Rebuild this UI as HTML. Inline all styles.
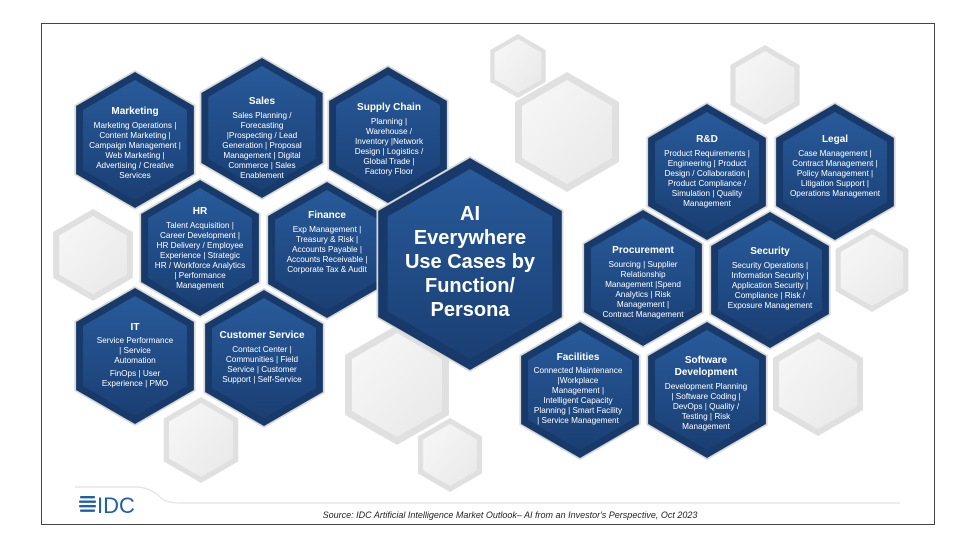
<!DOCTYPE html>
<html><head><meta charset="utf-8"><style>
html,body{margin:0;padding:0;background:#fff;}
svg{display:block;font-family:"Liberation Sans",sans-serif;}
.t{fill:#fff;font-weight:bold;font-size:10px;text-anchor:middle;}
.b{fill:#fff;font-size:8.2px;text-anchor:middle;}
</style></head><body>
<svg width="975" height="548" viewBox="0 0 975 548" xmlns="http://www.w3.org/2000/svg">
<defs>
<polygon id="h" points="0,-1 0.866,-0.5 0.866,0.5 0,1 -0.866,0.5 -0.866,-0.5"/>
<linearGradient id="bg" x1="0" y1="0" x2="0" y2="1"><stop offset="0" stop-color="#285a9a"/><stop offset="1" stop-color="#1a3f74"/></linearGradient>
<linearGradient id="gg" x1="0" y1="0" x2="1" y2="1"><stop offset="0" stop-color="#f8f8f8"/><stop offset="1" stop-color="#e8e8e8"/></linearGradient>
</defs>
<rect x="41.5" y="23.5" width="893" height="501" fill="#fff" stroke="#444" stroke-width="1"/>
<g>
<g transform="translate(518,66)"><use href="#h" transform="scale(32)" fill="#e0e0e0"/><use href="#h" transform="scale(27)" fill="url(#gg)"/></g>
<g transform="translate(567,132)"><use href="#h" transform="scale(60)" fill="#e0e0e0"/><use href="#h" transform="scale(52)" fill="url(#gg)"/></g>
<g transform="translate(765,85)"><use href="#h" transform="scale(40)" fill="#e0e0e0"/><use href="#h" transform="scale(34)" fill="url(#gg)"/></g>
<g transform="translate(872,270)"><use href="#h" transform="scale(42)" fill="#e0e0e0"/><use href="#h" transform="scale(36)" fill="url(#gg)"/></g>
<g transform="translate(818,384)"><use href="#h" transform="scale(52)" fill="#e0e0e0"/><use href="#h" transform="scale(45)" fill="url(#gg)"/></g>
<g transform="translate(93,255)"><use href="#h" transform="scale(46)" fill="#e0e0e0"/><use href="#h" transform="scale(39)" fill="url(#gg)"/></g>
<g transform="translate(201,440)"><use href="#h" transform="scale(43)" fill="#e0e0e0"/><use href="#h" transform="scale(37)" fill="url(#gg)"/></g>
<g transform="translate(397,385)"><use href="#h" transform="scale(60)" fill="#e0e0e0"/><use href="#h" transform="scale(52)" fill="url(#gg)"/></g>
<g transform="translate(450,455)"><use href="#h" transform="scale(37)" fill="#e0e0e0"/><use href="#h" transform="scale(31)" fill="url(#gg)"/></g>
</g>
<g>
<g transform="translate(135,140)"><use href="#h" transform="scale(70)" fill="#d8d8d8"/><use href="#h" transform="scale(68)" fill="#173a6a"/><use href="#h" transform="scale(60)" fill="url(#bg)"/></g>
<g transform="translate(262,128)"><use href="#h" transform="scale(72)" fill="#d8d8d8"/><use href="#h" transform="scale(70)" fill="#173a6a"/><use href="#h" transform="scale(62)" fill="url(#bg)"/></g>
<g transform="translate(388,135)"><use href="#h" transform="scale(70)" fill="#d8d8d8"/><use href="#h" transform="scale(68)" fill="#173a6a"/><use href="#h" transform="scale(60)" fill="url(#bg)"/></g>
<g transform="translate(200,248)"><use href="#h" transform="scale(70)" fill="#d8d8d8"/><use href="#h" transform="scale(68)" fill="#173a6a"/><use href="#h" transform="scale(60)" fill="url(#bg)"/></g>
<g transform="translate(327,250)"><use href="#h" transform="scale(70)" fill="#d8d8d8"/><use href="#h" transform="scale(68)" fill="#173a6a"/><use href="#h" transform="scale(60)" fill="url(#bg)"/></g>
<g transform="translate(135,356)"><use href="#h" transform="scale(70)" fill="#d8d8d8"/><use href="#h" transform="scale(68)" fill="#173a6a"/><use href="#h" transform="scale(60)" fill="url(#bg)"/></g>
<g transform="translate(264,358)"><use href="#h" transform="scale(70)" fill="#d8d8d8"/><use href="#h" transform="scale(68)" fill="#173a6a"/><use href="#h" transform="scale(60)" fill="url(#bg)"/></g>
<g transform="translate(470,264)"><use href="#h" transform="scale(108)" fill="#d8d8d8"/><use href="#h" transform="scale(106)" fill="#173a6a"/><use href="#h" transform="scale(95)" fill="url(#bg)"/></g>
<g transform="translate(707,172)"><use href="#h" transform="scale(70)" fill="#d8d8d8"/><use href="#h" transform="scale(68)" fill="#173a6a"/><use href="#h" transform="scale(60)" fill="url(#bg)"/></g>
<g transform="translate(835,172)"><use href="#h" transform="scale(70)" fill="#d8d8d8"/><use href="#h" transform="scale(68)" fill="#173a6a"/><use href="#h" transform="scale(60)" fill="url(#bg)"/></g>
<g transform="translate(643,278)"><use href="#h" transform="scale(70)" fill="#d8d8d8"/><use href="#h" transform="scale(68)" fill="#173a6a"/><use href="#h" transform="scale(60)" fill="url(#bg)"/></g>
<g transform="translate(770,280)"><use href="#h" transform="scale(70)" fill="#d8d8d8"/><use href="#h" transform="scale(68)" fill="#173a6a"/><use href="#h" transform="scale(60)" fill="url(#bg)"/></g>
<g transform="translate(580,390)"><use href="#h" transform="scale(70)" fill="#d8d8d8"/><use href="#h" transform="scale(68)" fill="#173a6a"/><use href="#h" transform="scale(60)" fill="url(#bg)"/></g>
<g transform="translate(707,390)"><use href="#h" transform="scale(70)" fill="#d8d8d8"/><use href="#h" transform="scale(68)" fill="#173a6a"/><use href="#h" transform="scale(60)" fill="url(#bg)"/></g>
</g>
<text class="t" x="135" y="114">Marketing</text>
<text class="b" x="135" y="128"><tspan x="135">Marketing Operations |</tspan><tspan x="135" dy="10">Content Marketing |</tspan><tspan x="135" dy="10">Campaign Management |</tspan><tspan x="135" dy="10">Web Marketing |</tspan><tspan x="135" dy="10">Advertising / Creative</tspan><tspan x="135" dy="10">Services</tspan></text>

<text class="t" x="262" y="104">Sales</text>
<text class="b" x="262" y="118"><tspan x="262">Sales Planning /</tspan><tspan x="262" dy="10">Forecasting</tspan><tspan x="262" dy="10">|Prospecting / Lead</tspan><tspan x="262" dy="10">Generation | Proposal</tspan><tspan x="262" dy="10">Management | Digital</tspan><tspan x="262" dy="10">Commerce | Sales</tspan><tspan x="262" dy="10">Enablement</tspan></text>

<text class="t" x="389" y="110">Supply Chain</text>
<text class="b" x="389" y="124"><tspan x="389">Planning |</tspan><tspan x="389" dy="10">Warehouse /</tspan><tspan x="389" dy="10">Inventory |Network</tspan><tspan x="389" dy="10">Design | Logistics /</tspan><tspan x="389" dy="10">Global Trade |</tspan><tspan x="389" dy="10">Factory Floor</tspan></text>

<text class="t" x="200" y="214">HR</text>
<text class="b" x="200" y="228"><tspan x="200">Talent Acquisition |</tspan><tspan x="200" dy="10">Career Development |</tspan><tspan x="200" dy="10">HR Delivery / Employee</tspan><tspan x="200" dy="10">Experience | Strategic</tspan><tspan x="200" dy="10">HR / Workforce Analytics</tspan><tspan x="200" dy="10">| Performance</tspan><tspan x="200" dy="10">Management</tspan></text>

<text class="t" x="327" y="218">Finance</text>
<text class="b" x="327" y="232"><tspan x="327">Exp Management |</tspan><tspan x="327" dy="10">Treasury &amp; Risk |</tspan><tspan x="327" dy="10">Accounts Payable |</tspan><tspan x="327" dy="10">Accounts Receivable |</tspan><tspan x="327" dy="10">Corporate Tax &amp; Audit</tspan></text>

<text class="t" x="135" y="330">IT</text>
<text class="b" x="135" y="343"><tspan x="135">Service Performance</tspan><tspan x="135" dy="10">| Service</tspan><tspan x="135" dy="10">Automation</tspan><tspan x="135" dy="13">FinOps | User</tspan><tspan x="135" dy="10">Experience | PMO</tspan></text>

<text class="t" x="262" y="338">Customer Service</text>
<text class="b" x="262" y="352"><tspan x="262">Contact Center |</tspan><tspan x="262" dy="10">Communities | Field</tspan><tspan x="262" dy="10">Service | Customer</tspan><tspan x="262" dy="10">Support | Self-Service</tspan></text>

<g style="fill:#fff;font-weight:bold;font-size:20px;text-anchor:middle;">
<text x="470" y="220">AI</text><text x="470" y="244">Everywhere</text><text x="470" y="268">Use Cases by</text><text x="470" y="292">Function/</text><text x="470" y="316">Persona</text>
</g>

<text class="t" x="707" y="142">R&amp;D</text>
<text class="b" x="707" y="156"><tspan x="707">Product Requirements |</tspan><tspan x="707" dy="10">Engineering | Product</tspan><tspan x="707" dy="10">Design / Collaboration |</tspan><tspan x="707" dy="10">Product Compliance /</tspan><tspan x="707" dy="10">Simulation | Quality</tspan><tspan x="707" dy="10">Management</tspan></text>

<text class="t" x="835" y="142">Legal</text>
<text class="b" x="835" y="156"><tspan x="835">Case Management |</tspan><tspan x="835" dy="10">Contract Management |</tspan><tspan x="835" dy="10">Policy Management |</tspan><tspan x="835" dy="10">Litigation Support |</tspan><tspan x="835" dy="10">Operations Management</tspan></text>

<text class="t" x="643" y="253">Procurement</text>
<text class="b" x="643" y="267"><tspan x="643">Sourcing | Supplier</tspan><tspan x="643" dy="10">Relationship</tspan><tspan x="643" dy="10">Management |Spend</tspan><tspan x="643" dy="10">Analytics | Risk</tspan><tspan x="643" dy="10">Management |</tspan><tspan x="643" dy="10">Contract Management</tspan></text>

<text class="t" x="770" y="254">Security</text>
<text class="b" x="770" y="268"><tspan x="770">Security Operations |</tspan><tspan x="770" dy="10">Information Security |</tspan><tspan x="770" dy="10">Application Security |</tspan><tspan x="770" dy="10">Compliance | Risk /</tspan><tspan x="770" dy="10">Exposure Management</tspan></text>

<text class="t" x="578" y="360">Facilities</text>
<text class="b" x="578" y="373"><tspan x="578">Connected Maintenance</tspan><tspan x="578" dy="10">|Workplace</tspan><tspan x="578" dy="10">Management |</tspan><tspan x="578" dy="10">Intelligent Capacity</tspan><tspan x="578" dy="10">Planning | Smart Facility</tspan><tspan x="578" dy="10">| Service Management</tspan></text>

<text class="t" x="706" y="363"><tspan x="706">Software</tspan><tspan x="706" dy="12">Development</tspan></text>
<text class="b" x="706" y="389"><tspan x="706">Development Planning</tspan><tspan x="706" dy="10">| Software Coding |</tspan><tspan x="706" dy="10">DevOps | Quality /</tspan><tspan x="706" dy="10">Testing | Risk</tspan><tspan x="706" dy="10">Management</tspan></text>

<path d="M75,487 L135,487 Q150,487 160,497 Q165,503 180,503 L900,503" fill="none" stroke="#e2e2e2" stroke-width="1.2"/>
<g fill="#1f5fa8">
<rect x="80" y="496" width="15" height="2.4" rx="1"/><rect x="79" y="500.5" width="17" height="2.4" rx="1"/><rect x="79" y="505" width="17" height="2.4" rx="1"/><rect x="80" y="509.5" width="15" height="2.4" rx="1"/>
</g>
<text x="97" y="513" style="fill:#1f5fa8;font-size:22px;">IDC</text>
<text x="510" y="518" style="fill:#222;font-size:9px;font-style:italic;text-anchor:middle;">Source: IDC Artificial Intelligence Market Outlook– AI from an Investor's Perspective, Oct 2023</text>
</svg>
</body></html>
